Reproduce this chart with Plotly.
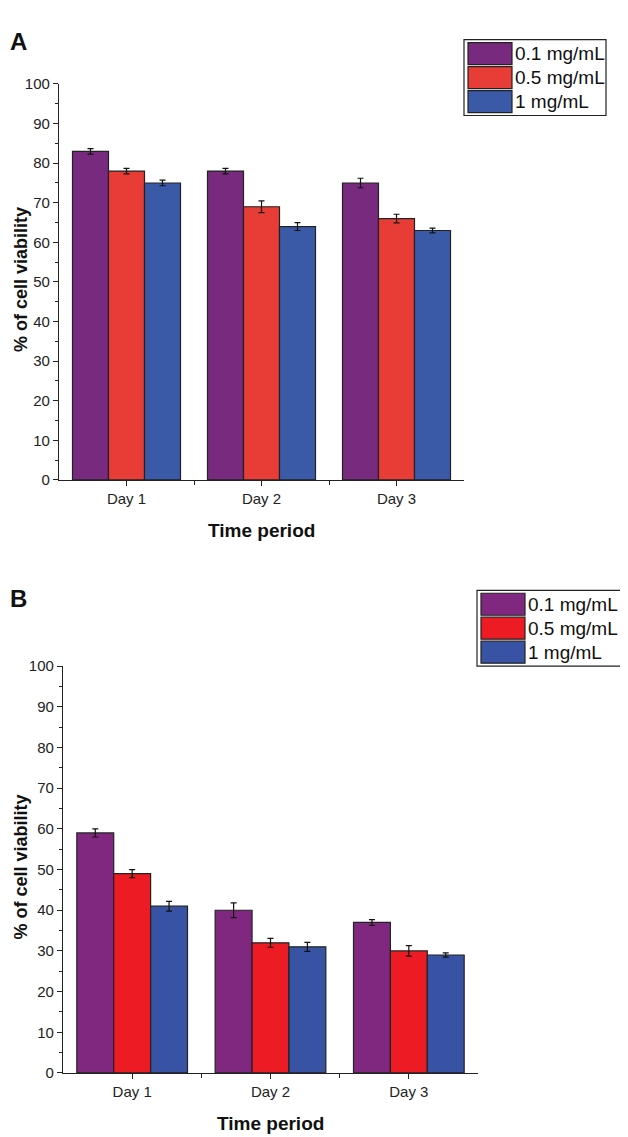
import plotly.graph_objects as go

days = ["Day 1", "Day 2", "Day 3"]
day_pos = [1, 2, 3]
series = ["0.1 mg/mL", "0.5 mg/mL", "1 mg/mL"]

# Panel A values
a_vals = {
    "0.1 mg/mL": [83, 78, 75],
    "0.5 mg/mL": [78, 69, 66],
    "1 mg/mL": [75, 64, 63],
}
a_err = {
    "0.1 mg/mL": [0.7, 0.7, 1.2],
    "0.5 mg/mL": [0.7, 1.5, 1.1],
    "1 mg/mL": [0.7, 1.0, 0.6],
}
# Panel B values
b_vals = {
    "0.1 mg/mL": [59, 40, 37],
    "0.5 mg/mL": [49, 32, 30],
    "1 mg/mL": [41, 31, 29],
}
b_err = {
    "0.1 mg/mL": [1.0, 1.8, 0.7],
    "0.5 mg/mL": [1.0, 1.1, 1.3],
    "1 mg/mL": [1.2, 1.1, 0.5],
}

a_colors = ["#772A7E", "#E83C36", "#3A5AA8"]
b_colors = ["#802880", "#ED1C24", "#3853A4"]

FONT = "Liberation Sans Narrow, Arial Narrow, Liberation Sans, Arial"
BFONT = "Liberation Sans, Arial"

fig = go.Figure()

for vals, errs, cols, xa, ya in [(a_vals, a_err, a_colors, "x", "y"),
                                 (b_vals, b_err, b_colors, "x2", "y2")]:
    for s, c in zip(series, cols):
        fig.add_trace(go.Bar(
            x=day_pos, y=vals[s], name=s, xaxis=xa, yaxis=ya,
            marker=dict(color=c, line=dict(color="#222222", width=1.2)),
            error_y=dict(type="data", array=errs[s], color="#111111",
                         thickness=1.2, width=3),
            showlegend=False,
        ))

W, H = 628, 1137

def px_x(v):
    return v / W

def px_y(v):
    return 1 - v / H

axis_common = dict(
    showline=True, linecolor="#222222", linewidth=1.2,
    ticks="outside", tickcolor="#222222", tickwidth=1.2,
    showgrid=False, zeroline=False,
    tickfont=dict(family=FONT, size=15, color="#222222"),
)

# Panel geometry (px)
A = dict(x0=51, x1=456, y0=68, y1=470)
B = dict(x0=55, x1=470, y0=659, y1=1072)

fig.update_layout(
    width=W, height=H, margin=dict(l=0, r=0, t=0, b=0),
    plot_bgcolor="white", paper_bgcolor="white",
    barmode="group", bargap=0.2, bargroupgap=0,
    xaxis=dict(domain=[px_x(A["x0"]), px_x(A["x1"])], anchor="y",
               range=[0.5, 3.5], tickvals=day_pos, ticktext=days, ticklen=5,
               minor=dict(tickvals=[1.5, 2.5], ticklen=4, ticks="outside",
                          tickcolor="#222222", tickwidth=1.2),
               **axis_common),
    yaxis=dict(domain=[px_y(A["y1"]), px_y(A["y0"])], anchor="x",
               range=[0, 100], dtick=10, ticklen=5,
               minor=dict(dtick=5, ticklen=3, ticks="outside",
                          tickcolor="#222222", tickwidth=1.2),
               **axis_common),
    xaxis2=dict(domain=[px_x(B["x0"]), px_x(B["x1"])], anchor="y2",
                range=[0.5, 3.5], tickvals=day_pos, ticktext=days, ticklen=5,
                minor=dict(tickvals=[1.5, 2.5], ticklen=4, ticks="outside",
                           tickcolor="#222222", tickwidth=1.2),
                **axis_common),
    yaxis2=dict(domain=[px_y(B["y1"]), px_y(B["y0"])], anchor="x2",
                range=[0, 100], dtick=10, ticklen=5,
                minor=dict(dtick=5, ticklen=3, ticks="outside",
                           tickcolor="#222222", tickwidth=1.2),
                **axis_common),
)

annotations = []
shapes = []

# Panel letters
annotations.append(dict(text="<b>A</b>", x=px_x(0), y=px_y(25), xref="paper", yref="paper",
                        xanchor="left", yanchor="middle", showarrow=False,
                        font=dict(family=BFONT, size=24, color="#111111")))
annotations.append(dict(text="<b>B</b>", x=px_x(0), y=px_y(590), xref="paper", yref="paper",
                        xanchor="left", yanchor="middle", showarrow=False,
                        font=dict(family=BFONT, size=24, color="#111111")))

# Axis titles
for g, xt_y in [(A, 521), (B, 1123)]:
    annotations.append(dict(text="<b>Time period</b>", x=px_x((g["x0"] + g["x1"]) / 2),
                            y=px_y(xt_y), xref="paper", yref="paper",
                            xanchor="center", yanchor="middle", showarrow=False,
                            font=dict(family=BFONT, size=19, color="#111111")))
    annotations.append(dict(text="<b>% of cell viability</b>", x=px_x(1),
                            y=px_y((g["y0"] + g["y1"]) / 2 - 2), xref="paper", yref="paper",
                            xanchor="left", yanchor="middle", showarrow=False, textangle=-90,
                            font=dict(family=BFONT, size=18, color="#111111")))

# Custom legends (large swatches)
for (lx0, lx1, ly0, ly1), cols in [((456, 598, 23, 100), a_colors),
                                   ((469, 616, 582, 659), b_colors)]:
    shapes.append(dict(type="rect", xref="paper", yref="paper",
                       x0=px_x(lx0), x1=px_x(lx1), y0=px_y(ly1), y1=px_y(ly0),
                       line=dict(color="#222222", width=1.2), fillcolor="white"))
    rh = (ly1 - ly0 - 4) / 3
    for i, (s, c) in enumerate(zip(series, cols)):
        ry0 = ly0 + 2 + i * rh
        shapes.append(dict(type="rect", xref="paper", yref="paper",
                           x0=px_x(lx0 + 4), x1=px_x(lx0 + 48),
                           y0=px_y(ry0 + rh - 1), y1=px_y(ry0 + 1),
                           line=dict(color="#222222", width=1.2), fillcolor=c))
        annotations.append(dict(text=s, x=px_x(lx0 + 49), y=px_y(ry0 + rh / 2),
                                xref="paper", yref="paper", xanchor="left", yanchor="middle",
                                showarrow=False,
                                font=dict(family="Liberation Sans, Arial", size=19, color="#111111")))

fig.update_layout(annotations=annotations, shapes=shapes)
fig.write_html("out.html")
